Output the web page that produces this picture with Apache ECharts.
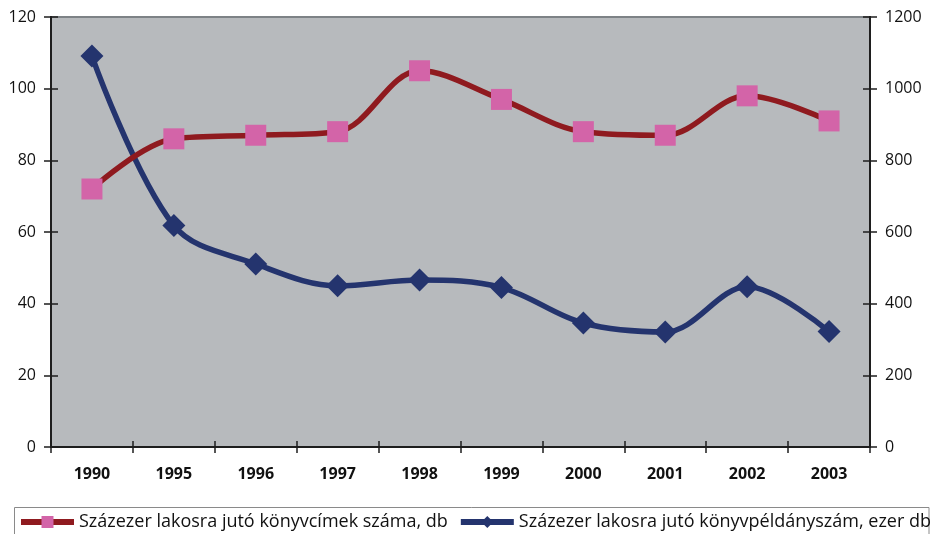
<!DOCTYPE html>
<html>
<head>
<meta charset="utf-8">
<script src="https://cdn.jsdelivr.net/npm/echarts@6/dist/echarts.min.js"></script>
<style>
  html, body { margin: 0; padding: 0; background: #ffffff; }
  #chart { width: 931px; height: 534px; }
</style>
</head>
<body>
<div id="chart"></div>
<script>
// Years on the category axis
const years = ['1990', '1995', '1996', '1997', '1998', '1999', '2000', '2001', '2002', '2003'];
// Book titles per 100 000 inhabitants (left axis)
const titlesPer100k = [72, 86, 87, 88, 105, 97, 88, 87, 98, 91];
// Book copies per 100 000 inhabitants, thousand (right axis)
const copiesPer100k = [1091, 618, 511, 450, 466, 445, 346, 321, 447, 322];
// Axis ranges
const leftMax = 120, leftStep = 20;
const rightMax = 1200, rightStep = 200;

const seriesNames = [
  'Százezer lakosra jutó könyvcímek száma, db',
  'Százezer lakosra jutó könyvpéldányszám, ezer db'
];

const font = '"Open Sans", "Noto Sans", sans-serif';
const axisColor = '#1e1e1e';

function valueAxis(pos, max, step, showLabels, inside) {
  return {
    type: 'value',
    position: pos,
    min: 0,
    max: max,
    interval: step,
    splitLine: { show: false },
    axisLine: { show: true, lineStyle: { color: axisColor, width: 2 } },
    axisTick: { show: true, inside: inside, length: 7, lineStyle: { color: axisColor, width: 1.5 } },
    axisLabel: {
      show: showLabels,
      color: '#111',
      fontFamily: font,
      fontSize: 16,
      margin: 15,
      formatter: function (v) { return String(v); }
    }
  };
}

function categoryAxis(showLabels, inside) {
  return {
    type: 'category',
    data: years,
    boundaryGap: true,
    position: 'bottom',
    axisLine: { show: true, lineStyle: { color: axisColor, width: 2 } },
    axisTick: { show: true, inside: inside, length: 6, alignWithLabel: false, lineStyle: { color: axisColor, width: 1.5 } },
    axisLabel: {
      show: showLabels,
      color: '#111',
      fontFamily: font,
      fontSize: 16,
      fontWeight: 'bold',
      margin: 19
    }
  };
}

const chart = echarts.init(document.getElementById('chart'), null, { renderer: 'canvas' });

chart.setOption({
  animation: false,
  backgroundColor: '#ffffff',
  grid: {
    left: 51, right: 61, top: 17, bottom: 87,
    show: true,
    backgroundColor: '#b7babd',
    borderColor: '#7d8286',
    borderWidth: 2
  },
  xAxis: [categoryAxis(true, false), categoryAxis(false, true)],
  yAxis: [
    valueAxis('left', leftMax, leftStep, true, false),
    valueAxis('right', rightMax, rightStep, true, false),
    valueAxis('left', leftMax, leftStep, false, true),
    valueAxis('right', rightMax, rightStep, false, true)
  ],
  graphic: [{
    type: 'rect',
    silent: true,
    z: -1,
    shape: { x: 14.5, y: 507.5, width: 914.5, height: 40 },
    style: { fill: '#ffffff', stroke: '#8a8a8a', lineWidth: 1 }
  }],
  legend: {
    left: 18,
    top: 513,
    width: 1000,
    padding: 0,
    itemGap: 10,
    itemWidth: 53,
    itemHeight: 15,
    lineStyle: { width: 6 },
    textStyle: { fontFamily: font, fontSize: 18, color: '#111' },
    data: seriesNames
  },
  series: [
    {
      name: seriesNames[0],
      type: 'line',
      xAxisIndex: 0,
      yAxisIndex: 0,
      data: titlesPer100k,
      smooth: 0.35,
      symbol: 'rect',
      symbolSize: 21,
      lineStyle: { color: '#8f1a1f', width: 5.5 },
      itemStyle: { color: '#d364a8', borderWidth: 0 },
      z: 3
    },
    {
      name: seriesNames[1],
      type: 'line',
      xAxisIndex: 0,
      yAxisIndex: 1,
      data: copiesPer100k,
      smooth: 0.35,
      symbol: 'diamond',
      symbolSize: [23, 23],
      lineStyle: { color: '#24346e', width: 5.5 },
      itemStyle: { color: '#24346e', borderWidth: 0 },
      z: 2
    }
  ]
});
</script>
</body>
</html>
